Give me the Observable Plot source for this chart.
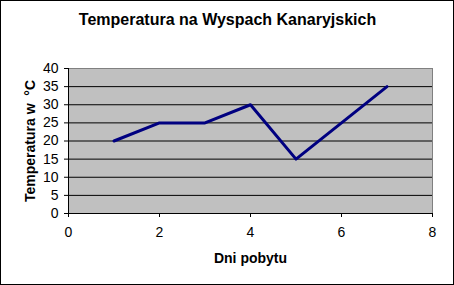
<!DOCTYPE html>
<html><head><meta charset="utf-8">
<script src="https://cdn.jsdelivr.net/npm/d3@7"></script>
<script src="https://cdn.jsdelivr.net/npm/@observablehq/plot@0.6"></script>
<style>
body{margin:0;background:#fff}
svg{outline:1px solid #000;outline-offset:-1px;display:block}
</style>
</head><body>
<div id="chart"></div>
<script>
const days = [1, 2, 3, 4, 5, 6, 7];
const temps = [20, 25, 25, 30, 15, 25, 35];
const xTicks = [0, 2, 4, 6, 8];
const yTicks = [0, 5, 10, 15, 20, 25, 30, 35, 40];
const gridLines = [5, 10, 15, 20, 25, 30, 35];
const title = "Temperatura na Wyspach Kanaryjskich";
const xTitle = "Dni pobytu";
const yTitle = "Temperatura w\u00a0\u00a0°C";

const data = days.map((d, i) => ({day: d, temp: temps[i]}));
const font = "'Liberation Sans', Arial, sans-serif";

const chart = Plot.plot({
  width: 454,
  height: 285,
  marginLeft: 68,
  marginRight: 22,
  marginTop: 68,
  marginBottom: 72,
  style: {fontFamily: font, fontSize: "14px", color: "#000", background: "#fff"},
  x: {domain: [0, 8], label: null},
  y: {domain: [0, 40], label: null},
  marks: [
    Plot.frame({fill: "#c0c0c0", stroke: "#808080"}),
    Plot.ruleY(gridLines, {stroke: "#000", strokeWidth: 1}),
    Plot.ruleX([0], {stroke: "#000"}),
    Plot.ruleY([0], {stroke: "#000"}),
    Plot.axisX({ticks: xTicks, tickSize: 4, tickPadding: 10, label: null, stroke: "#000", strokeOpacity: 1, fontSize: 14}),
    Plot.axisY({ticks: yTicks, tickSize: 4, tickPadding: 6, label: null, stroke: "#000", strokeOpacity: 1, fontSize: 14}),
    Plot.line(data, {x: "day", y: "temp", stroke: "#000080", strokeWidth: 3}),
    Plot.text([title], {frameAnchor: "top", dx: -23, dy: -44, fontSize: 16, fontWeight: "bold", textAnchor: "middle", lineAnchor: "bottom"}),
    Plot.text([xTitle], {frameAnchor: "bottom", dy: 49, fontSize: 14, fontWeight: "bold", textAnchor: "middle", lineAnchor: "bottom"}),
    Plot.text([yTitle], {frameAnchor: "left", dx: -38, rotate: -90, fontSize: 14, fontWeight: "bold", textAnchor: "middle", lineAnchor: "middle"})
  ]
});
document.getElementById("chart").append(chart);
</script>
</body></html>
